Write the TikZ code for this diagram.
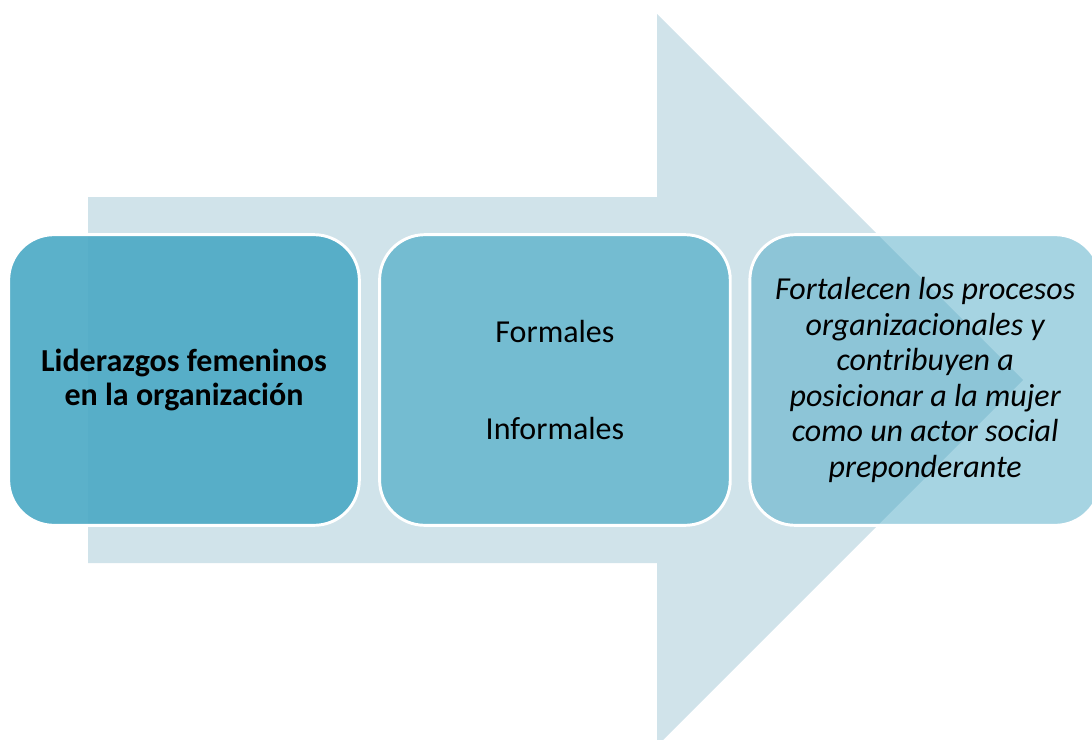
\documentclass[tikz,border=0pt]{standalone}
\usepackage{fontspec}
\setmainfont{Carlito}
\usetikzlibrary{positioning}
\definecolor{arrowblue}{RGB}{208,227,234}
\definecolor{boxone}{RGB}{77,170,198}
\definecolor{boxtwo}{RGB}{106,184,207}
\definecolor{boxthree}{RGB}{66,164,194}

\begin{document}
\begin{tikzpicture}[x=0.75pt,y=-0.75pt]
    \tikzstyle{stage}=[draw=white, line width=2.2pt, rounded corners=34pt,
      minimum width=263pt, minimum height=218pt, align=center,
      font=\fontsize{24}{26}\selectfont];
    \useasboundingbox (0,0) rectangle (1092,739);
    \clip (0,0) rectangle (1092,739);
    % big arrow behind
    \fill[arrowblue] (88,197) -- (657,197) -- (657,14) -- (1023,380)
      -- (657,746) -- (657,563) -- (88,563) -- cycle;
    % stages
    \node[stage, fill=boxone, fill opacity=0.92, text opacity=1] (lid) at (184,380)
      {\textbf{Liderazgos femeninos}\\\textbf{en la organización}};
    \node[stage, fill=boxtwo, fill opacity=0.9, text opacity=1, right=13pt of lid] (tipos)
      {Formales\\[47pt]Informales};
    \node[stage, fill=boxthree, fill opacity=0.47, text opacity=1, right=12.5pt of tipos,
      font=\fontsize{24}{26.6}\selectfont\itshape] (efecto)
      {Fortalecen los procesos\\organizacionales y\\contribuyen a\\posicionar a la mujer\\como un actor social\\preponderante};
\end{tikzpicture}
\end{document}
